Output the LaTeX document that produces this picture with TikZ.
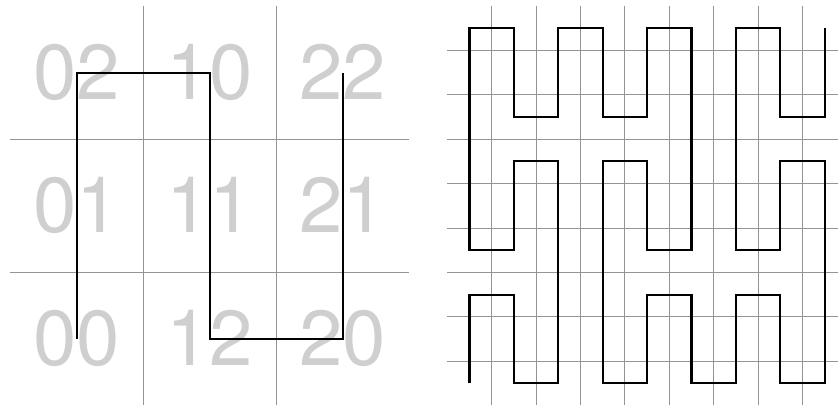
\documentclass[tikz,border=0pt]{standalone}
\usepackage{fontspec}
\setmainfont{TeX Gyre Heros}
\begin{document}
\begin{tikzpicture}[x=1pt,y=-1pt,
  lbl/.style={text=black!19, inner sep=0pt, font=\fontsize{78}{78}\selectfont},
  gridline/.style={draw=black!42, line width=0.9pt},
  curveA/.style={draw=black, line width=2pt, line join=miter},
  curveB/.style={draw=black, line width=2.1pt, line join=miter}]
\useasboundingbox (0,0) rectangle (838,405);
% ---- left panel labels
\foreach \lab/\cx/\cy/\nm in {02/0/0/a, 10/1/0/b, 22/2/0/c, 01/0/1/d, 11/1/1/e, 21/2/1/f, 00/0/2/g, 12/1/2/h, 20/2/2/i}
  \node[lbl] (L\nm) at ({76.5+133*\cx},{72+133*\cy}) {\lab};
% ---- left grid
\foreach \k in {1,2} {
  \draw[gridline] ({10+133*\k},6) -- ({10+133*\k},405);
  \draw[gridline] (10,{6+133*\k}) -- (409,{6+133*\k});
}
% ---- left curve
\draw[curveA] (76.5,338.5) -- (76.5,72.5) -- (209.5,72.5) -- (209.5,338.5) -- (342.5,338.5) -- (342.5,72.5);
% ---- right grid
\foreach \k in {1,...,8} {
  \draw[gridline] ({447.3+44.4*\k},6) -- ({447.3+44.4*\k},405);
  \draw[gridline] (447.3,{6+44.4*\k}) -- (838,{6+44.4*\k});
}
% ---- right curve (Peano, order 2); P(c,r) = cell centre
\def\P(#1,#2){({469.5+44.4*#1},{383.4-44.4*#2})}
\draw[curveB]
  \P(0,0) -- \P(0,2) -- \P(1,2) -- \P(1,0) -- \P(2,0) -- \P(2,5) -- \P(1,5) -- \P(1,3) -- \P(0,3) -- \P(0,8)
  -- \P(1,8) -- \P(1,6) -- \P(2,6) -- \P(2,8) -- \P(3,8) -- \P(3,6) -- \P(4,6) -- \P(4,8) -- \P(5,8)
  -- \P(5,3) -- \P(4,3) -- \P(4,5) -- \P(3,5) -- \P(3,0) -- \P(4,0) -- \P(4,2) -- \P(5,2) -- \P(5,0)
  -- \P(6,0) -- \P(6,2) -- \P(7,2) -- \P(7,0) -- \P(8,0) -- \P(8,5) -- \P(7,5) -- \P(7,3) -- \P(6,3)
  -- \P(6,8) -- \P(7,8) -- \P(7,6) -- \P(8,6) -- \P(8,8);
\end{tikzpicture}
\end{document}
